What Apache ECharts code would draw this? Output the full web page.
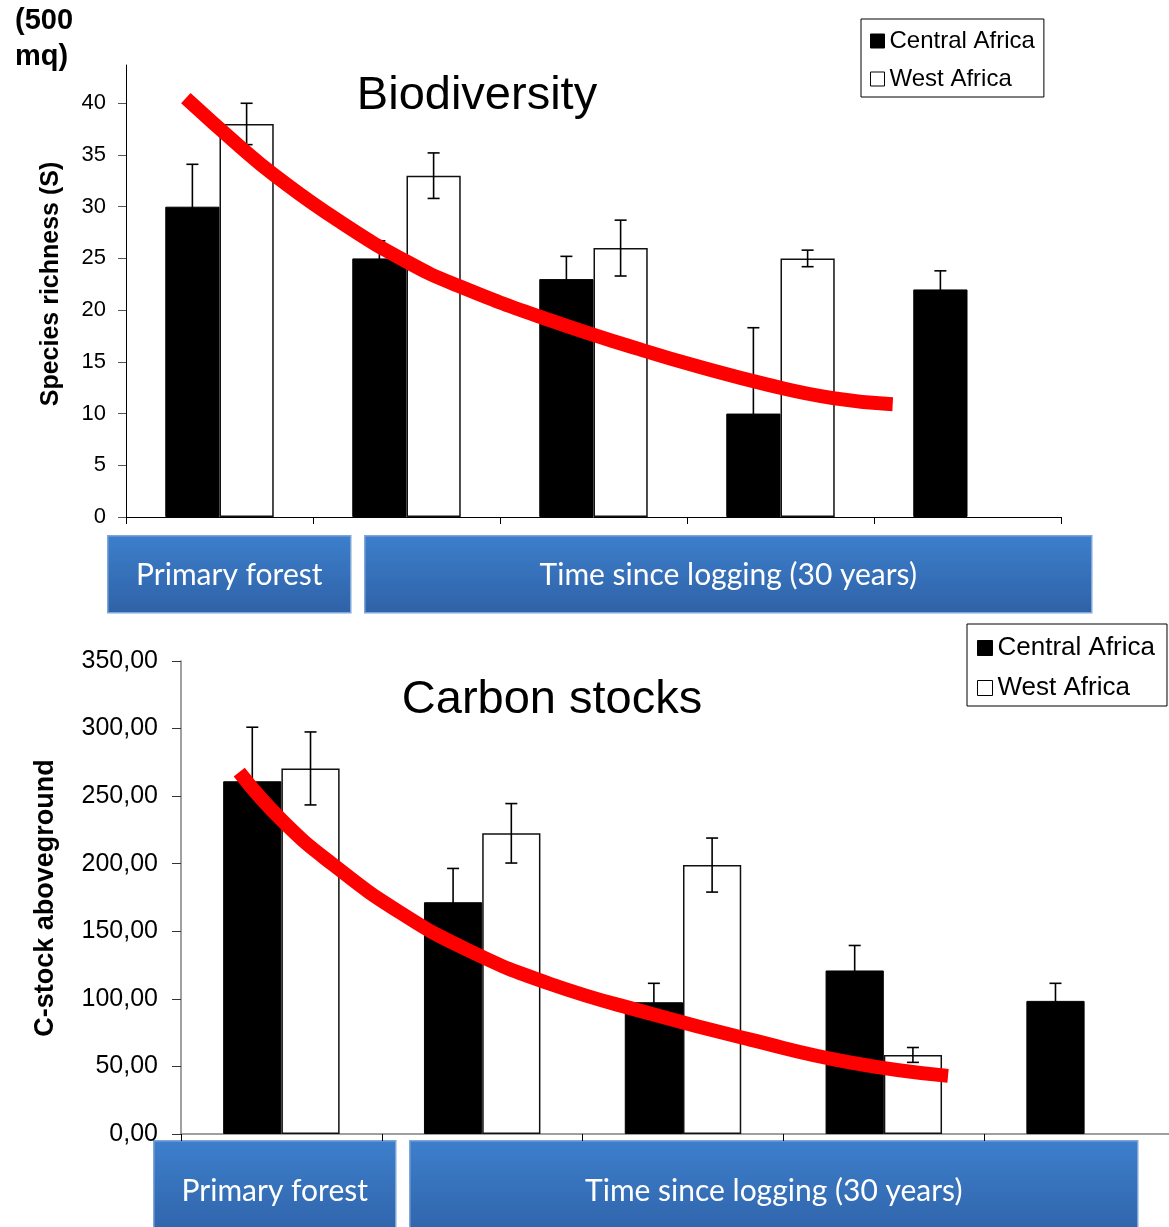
<!DOCTYPE html>
<html>
<head>
<meta charset="utf-8">
<script src="https://cdn.jsdelivr.net/npm/echarts@6/dist/echarts.min.js"></script>
<style>
  html, body { margin: 0; padding: 0; background: #fff; }
  #chart { width: 1169px; height: 1227px; }
</style>
</head>
<body>
<div id="chart"></div>
<script>
// categories (no visible labels in the original, the blue boxes below group them)
const categories = ['Primary forest', 'Logged 1', 'Logged 2', 'Logged 3', 'Logged 4'];
const seriesNames = ['Central Africa', 'West Africa'];

// Biodiversity - species richness (S) per 500 mq
const bioCentral = [30, 25, 23, 10, 22];
const bioCentralErr = [4.1, 1.7, 2.2, 8.3, 1.8];
const bioWest = [38, 33, 26, 25, null];
const bioWestErr = [2.0, 2.2, 2.7, 0.8, null];
const bioTicks = [0, 5, 10, 15, 20, 25, 30, 35, 40];

// red trend line (x in category units)
const bioTrendX = [-0.18, 0.11, 0.29, 0.64, 1.0, 1.27, 1.77, 2.25, 2.57, 2.93, 3.28, 3.6];
const bioTrendY = [40.5, 35.8, 33.1, 28.6, 24.7, 22.4, 19.0, 16.2, 14.5, 12.8, 11.5, 10.9];

// Carbon stocks - C-stock aboveground
const carbonCentral = [261, 171.5, 97.5, 121, 98.5];
const carbonCentralErr = [40, 25, 14, 18.5, 13];
const carbonWest = [270.5, 222.5, 199, 58.5, null];
const carbonWestErr = [27, 22, 20, 5.5, null];

const carbonTrendX = [-0.21, 0.01, 0.26, 0.59, 0.93, 1.34, 1.84, 2.33, 2.83, 3.32];
const carbonTrendY = [267.8, 231, 199, 164, 136, 111, 89, 70, 53, 43];

const FONT = 'Liberation Sans, Arial, sans-serif';
const BOX_FONT = 'Lato, Open Sans, sans-serif';

// 误差线
function errorBarRender(offset) {
  return function (params, api) {
    const v = api.value(1);
    const e = api.value(2);
    if (v == null || isNaN(v)) return;
    const idx = api.value(0);
    const band = api.size([1, 0])[0];
    const cx = api.coord([idx, v])[0] + offset * band;
    const hi = api.coord([idx, v + e])[1];
    const lo = api.coord([idx, v - e])[1];
    const hw = 6;
    const style = { stroke: '#000', lineWidth: 1.6 };
    return {
      type: 'group',
      children: [
        { type: 'line', shape: { x1: cx, y1: hi, x2: cx, y2: lo }, style },
        { type: 'line', shape: { x1: cx - hw, y1: hi, x2: cx + hw, y2: hi }, style },
        { type: 'line', shape: { x1: cx - hw, y1: lo, x2: cx + hw, y2: lo }, style }
      ]
    };
  };
}

function errData(values, errs) {
  return values.map((v, i) => [i, v, errs[i]]);
}

function trendData(xs, ys) {
  return xs.map((x, i) => [x, ys[i]]);
}

function blueBox(x, y, w, h, text, fontSize) {
  return {
    type: 'group',
    left: x,
    top: y,
    children: [
      {
        type: 'rect',
        shape: { x: 0, y: 0, width: w, height: h },
        style: {
          fill: new echarts.graphic.LinearGradient(0, 0, 0, 1, [
            { offset: 0, color: '#3d7fcc' },
            { offset: 1, color: '#2f62a7' }
          ]),
          stroke: '#7fa6d9',
          lineWidth: 1.5
        }
      },
      {
        type: 'text',
        x: w / 2,
        y: h / 2 + 1,
        style: {
          text: text,
          fill: '#fff',
          font: fontSize + 'px ' + BOX_FONT,
          align: 'center',
          verticalAlign: 'middle'
        }
      }
    ]
  };
}

const legendBase = {
  orient: 'vertical',
  borderColor: '#000',
  borderWidth: 1,
  icon: 'rect',
  itemWidth: 14,
  itemHeight: 14,
  itemGap: 14,
  selectedMode: false,
  itemStyle: { borderColor: '#000', borderWidth: 1 },
  data: seriesNames
};

const catAxis = {
  type: 'category',
  data: categories,
  axisTick: { show: true, interval: 0, length: 7, lineStyle: { color: '#000' } },
  axisLabel: { show: false }
};

const trendStyle = { color: '#ff0000', width: 14, cap: 'butt' };

const chart = echarts.init(document.getElementById('chart'));

const option = {
  animation: false,
  backgroundColor: '#fff',
  grid: [
    { left: 126, top: 65, width: 935, height: 452, outerBoundsMode: 'none' },
    { left: 181, top: 661, width: 1004, height: 473, outerBoundsMode: 'none' }
  ],
  legend: [
    Object.assign({}, legendBase, {
      left: 861, top: 19,
      padding: [10, 9, 6, 9],
      textStyle: { fontSize: 24, fontFamily: FONT, color: '#000' }
    }),
    Object.assign({}, legendBase, {
      left: 967, top: 624,
      itemWidth: 15, itemHeight: 15,
      padding: [11, 12, 5, 10],
      textStyle: { fontSize: 26, fontFamily: FONT, color: '#000' }
    })
  ],
  xAxis: [
    Object.assign({}, catAxis, {
      gridIndex: 0,
      axisLine: { show: true, onZero: false, lineStyle: { color: '#000', width: 1 } }
    }),
    { type: 'value', gridIndex: 0, min: -0.5, max: 4.5, show: false },
    Object.assign({}, catAxis, {
      gridIndex: 1,
      axisLine: { show: true, onZero: false, lineStyle: { color: '#808080', width: 1.5 } }
    }),
    { type: 'value', gridIndex: 1, min: -0.5, max: 4.5, show: false }
  ],
  yAxis: [
    {
      type: 'value', gridIndex: 0, min: 0, max: 43.7,
      axisLine: { show: true, onZero: false, lineStyle: { color: '#000', width: 1 } },
      axisTick: { show: true, length: 8, customValues: bioTicks, lineStyle: { color: '#555' } },
      axisLabel: { customValues: bioTicks, fontSize: 22, fontFamily: FONT, color: '#000', margin: 20 },
      splitLine: { show: false }
    },
    {
      type: 'value', gridIndex: 1, min: 0, max: 350, interval: 50,
      axisLine: { show: true, onZero: false, lineStyle: { color: '#808080', width: 1.5 } },
      axisTick: { show: true, length: 9, lineStyle: { color: '#333' } },
      axisLabel: {
        fontSize: 25, fontFamily: FONT, color: '#000', margin: 23,
        formatter: v => v.toFixed(2).replace('.', ',')
      },
      splitLine: { show: false }
    }
  ],
  series: [
    // 生物多样性
    {
      name: 'Central Africa', type: 'bar', xAxisIndex: 0, yAxisIndex: 0,
      data: bioCentral, barGap: '0%', barCategoryGap: '42%',
      itemStyle: { color: '#000', borderColor: '#000', borderWidth: 1 }, z: 2
    },
    {
      name: 'West Africa', type: 'bar', xAxisIndex: 0, yAxisIndex: 0,
      data: bioWest, barGap: '0%', barCategoryGap: '42%',
      itemStyle: { color: '#fff', borderColor: '#111', borderWidth: 1.5 }, z: 2
    },
    {
      type: 'custom', xAxisIndex: 0, yAxisIndex: 0, z: 3,
      renderItem: errorBarRender(-0.145),
      encode: { x: 0, y: 1 },
      data: errData(bioCentral, bioCentralErr)
    },
    {
      type: 'custom', xAxisIndex: 0, yAxisIndex: 0, z: 3,
      renderItem: errorBarRender(0.145),
      encode: { x: 0, y: 1 },
      data: errData(bioWest, bioWestErr)
    },
    {
      type: 'line', xAxisIndex: 1, yAxisIndex: 0, z: 4,
      data: trendData(bioTrendX, bioTrendY),
      smooth: 0.5, symbol: 'none',
      lineStyle: trendStyle
    },
    // 碳储量
    {
      name: 'Central Africa', type: 'bar', xAxisIndex: 2, yAxisIndex: 1,
      data: carbonCentral, barGap: '0%', barCategoryGap: '42%',
      itemStyle: { color: '#000', borderColor: '#000', borderWidth: 1 }, z: 2
    },
    {
      name: 'West Africa', type: 'bar', xAxisIndex: 2, yAxisIndex: 1,
      data: carbonWest, barGap: '0%', barCategoryGap: '42%',
      itemStyle: { color: '#fff', borderColor: '#111', borderWidth: 1.5 }, z: 2
    },
    {
      type: 'custom', xAxisIndex: 2, yAxisIndex: 1, z: 3,
      renderItem: errorBarRender(-0.145),
      encode: { x: 0, y: 1 },
      data: errData(carbonCentral, carbonCentralErr)
    },
    {
      type: 'custom', xAxisIndex: 2, yAxisIndex: 1, z: 3,
      renderItem: errorBarRender(0.145),
      encode: { x: 0, y: 1 },
      data: errData(carbonWest, carbonWestErr)
    },
    {
      type: 'line', xAxisIndex: 3, yAxisIndex: 1, z: 4,
      data: trendData(carbonTrendX, carbonTrendY),
      smooth: 0.5, symbol: 'none',
      lineStyle: trendStyle
    }
  ],
  graphic: [
    {
      type: 'text', left: 15, top: 3,
      style: { text: '(500\nmq)', font: 'bold 29px ' + FONT, fill: '#000', lineHeight: 36 }
    },
    {
      type: 'text', x: 51, y: 284, rotation: Math.PI / 2,
      style: { text: 'Species richness (S)', font: 'bold 25px ' + FONT, fill: '#000', align: 'center', verticalAlign: 'middle' }
    },
    {
      type: 'text', x: 46, y: 898, rotation: Math.PI / 2,
      style: { text: 'C-stock aboveground', font: 'bold 27px ' + FONT, fill: '#000', align: 'center', verticalAlign: 'middle' }
    },
    {
      type: 'text', x: 477, y: 96,
      style: { text: 'Biodiversity', font: '47px ' + FONT, fill: '#000', align: 'center', verticalAlign: 'middle' }
    },
    {
      type: 'text', x: 552, y: 700,
      style: { text: 'Carbon stocks', font: '47px ' + FONT, fill: '#000', align: 'center', verticalAlign: 'middle' }
    },
    blueBox(107, 535, 243, 77, 'Primary forest', 30),
    blueBox(364, 535, 727, 77, 'Time since logging (30 years)', 30),
    blueBox(153, 1140, 242, 100, 'Primary forest', 30),
    blueBox(409, 1140, 728, 100, 'Time since logging (30 years)', 30)
  ]
};

chart.setOption(option);

window.addEventListener('resize', () => chart.resize());
</script>
</body>
</html>
